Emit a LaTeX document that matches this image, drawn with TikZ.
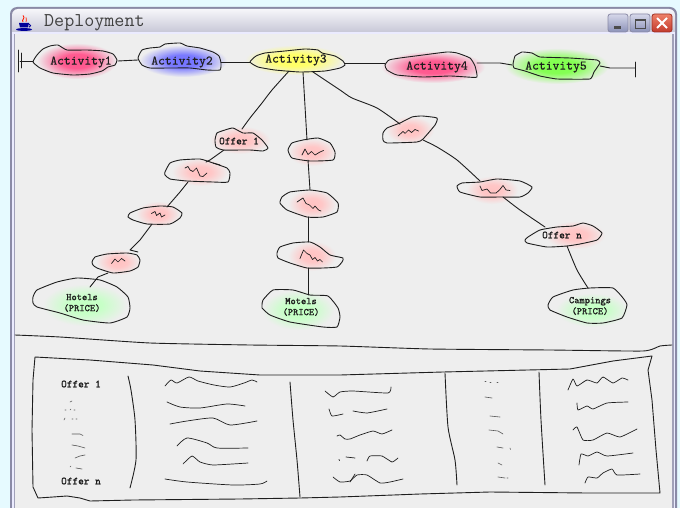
\documentclass[tikz,border=0pt]{standalone}
\usepackage{fontspec}
\newfontfamily\heavymono{lmmono10-regular.otf}[FakeBold=1.3]
\newfontfamily\midmono{lmmono10-regular.otf}[FakeBold=0.6]
\definecolor{outbg}{HTML}{E6FAFF}
\definecolor{canvas}{HTML}{EEEEEE}
\definecolor{ink}{HTML}{1E1E1E}
\definecolor{frameline}{HTML}{8A8AA6}
\definecolor{tbtop}{HTML}{F6F6FA}
\definecolor{tbbot}{HTML}{AEAEC4}
\definecolor{btntop}{HTML}{D6D8EA}
\definecolor{btnbot}{HTML}{8C92B8}
\definecolor{closetop}{HTML}{EE8068}
\definecolor{closebot}{HTML}{C23A2C}
% glows fading into the canvas grey
\pgfdeclareradialshading{glowred}{\pgfpoint{0bp}{0bp}}{rgb(0bp)=(1,0.33,0.55); rgb(10bp)=(1,0.36,0.57); rgb(25bp)=(0.933,0.933,0.933); rgb(50bp)=(0.933,0.933,0.933)}
\pgfdeclareradialshading{glowblue}{\pgfpoint{0bp}{0bp}}{rgb(0bp)=(0.45,0.45,1); rgb(10bp)=(0.48,0.48,1); rgb(25bp)=(0.933,0.933,0.933); rgb(50bp)=(0.933,0.933,0.933)}
\pgfdeclareradialshading{glowyellow}{\pgfpoint{0bp}{0bp}}{rgb(0bp)=(1,1,0.38); rgb(10bp)=(1,1,0.42); rgb(25bp)=(0.933,0.933,0.933); rgb(50bp)=(0.933,0.933,0.933)}
\pgfdeclareradialshading{glowgreen}{\pgfpoint{0bp}{0bp}}{rgb(0bp)=(0.5,1,0.3); rgb(10bp)=(0.52,1,0.33); rgb(25bp)=(0.933,0.933,0.933); rgb(50bp)=(0.933,0.933,0.933)}
\pgfdeclareradialshading{glowpink}{\pgfpoint{0bp}{0bp}}{rgb(0bp)=(1,0.76,0.76); rgb(10bp)=(1,0.78,0.78); rgb(25bp)=(0.933,0.933,0.933); rgb(50bp)=(0.933,0.933,0.933)}
\pgfdeclareradialshading{glowmint}{\pgfpoint{0bp}{0bp}}{rgb(0bp)=(0.76,1,0.76); rgb(10bp)=(0.78,1,0.78); rgb(25bp)=(0.933,0.933,0.933); rgb(50bp)=(0.933,0.933,0.933)}
\begin{document}
\begin{tikzpicture}[x=1pt,y=-1pt,
  blob/.style={draw=ink,line width=0.9pt,line join=round},
  sketch/.style={draw=ink,line width=0.9pt,line cap=round,line join=round},
  wiggle/.style={draw=ink,line width=0.7pt,line cap=round,line join=round},
  speck/.style={draw=ink!75,line width=0.6pt,line cap=round},
  actlabel/.style={font=\midmono\fontsize{13}{13}\selectfont,text=ink,inner sep=0pt},
  offerlabel/.style={font=\heavymono\fontsize{10.8}{11}\selectfont,text=ink,inner sep=0pt},
  pricelabel/.style={font=\heavymono\fontsize{10}{11}\selectfont,text=ink,inner sep=0pt,align=center},
  winbtn/.style={draw=frameline,line width=0.8pt,rounded corners=2.5pt,top color=btntop,bottom color=btnbot}]
\useasboundingbox (0,0) rectangle (680,508);
\clip (0,0) rectangle (680,508);

% window
\fill[outbg] (0,0) rectangle (680,508);
\fill[frameline,rounded corners=7pt] (10,7) rectangle (677,540);
\shade[top color=tbtop,bottom color=tbbot,rounded corners=6pt] (12,9) rectangle (675,45);
\fill[white!92!blue] (12,32) rectangle (675,540);
\fill[frameline!80] (13.5,34) rectangle (673.5,540);
\fill[canvas] (15,34) rectangle (672,540);
\node[font=\ttfamily\fontsize{19.5}{19.5}\selectfont,text=ink!85,anchor=base west,inner sep=0pt] (title) at (44,27) {Deployment};
% java cup
\fill[blue!60!black] (19,23) -- (29,23) -- (28,27.5) -- (20,27.5) -- cycle;
\draw[blue!60!black,line width=0.9pt] (29,24) arc[start angle=90,end angle=-90,radius=1.6pt];
\fill[blue!60!black] (24,29.5) ellipse[x radius=8pt,y radius=1.4pt];
\draw[red!80!orange,line width=0.9pt] (23,22) .. controls (21,19.5) and (26,18.5) .. (23,15.5);
\draw[red!80!orange,line width=0.7pt] (26,22) .. controls (25,20) and (28,19) .. (26,17.5);
% window buttons
\path[winbtn] (608,14) rectangle (628,32);
\fill[ink!80] (613.5,26.5) rectangle (620.5,29);
\path[winbtn] (630,14) rectangle (650,32);
\draw[ink!80,line width=0.9pt] (635,19.5) rectangle (645,28);
\fill[ink!80] (635,19) rectangle (645,20.8);
\path[draw=closebot!80!black,line width=0.8pt,rounded corners=2.5pt,top color=closetop,bottom color=closebot] (652,14) rectangle (672,32);
\draw[white,line width=1.8pt] (657,18) -- (667,28) (667,18) -- (657,28);

% glows
\shade[shading=glowred] (77,61) ellipse[x radius=40pt,y radius=18pt];
\shade[shading=glowblue] (183,61) ellipse[x radius=44pt,y radius=16pt];
\shade[shading=glowyellow] (295,60) ellipse[x radius=50pt,y radius=15pt];
\shade[shading=glowred] (433,67) ellipse[x radius=52pt,y radius=16pt];
\shade[shading=glowgreen] (557,66) ellipse[x radius=52pt,y radius=18pt];
\shade[shading=glowpink] (240,140) ellipse[x radius=30pt,y radius=14pt];
\shade[shading=glowpink] (200,172) ellipse[x radius=28pt,y radius=14pt];
\shade[shading=glowpink] (158,214) ellipse[x radius=22pt,y radius=13pt];
\shade[shading=glowpink] (118,262) ellipse[x radius=22pt,y radius=13pt];
\shade[shading=glowpink] (312,152) ellipse[x radius=24pt,y radius=14pt];
\shade[shading=glowpink] (312,204) ellipse[x radius=24pt,y radius=15pt];
\shade[shading=glowpink] (312,256) ellipse[x radius=24pt,y radius=15pt];
\shade[shading=glowpink] (410,130) ellipse[x radius=24pt,y radius=14pt];
\shade[shading=glowpink] (492,190) ellipse[x radius=26pt,y radius=14pt];
\shade[shading=glowpink] (575,235) ellipse[x radius=30pt,y radius=14pt];
\shade[shading=glowmint] (85,305) ellipse[x radius=42pt,y radius=21pt];
\shade[shading=glowmint] (298,310) ellipse[x radius=36pt,y radius=20pt];
\shade[shading=glowmint] (592,310) ellipse[x radius=36pt,y radius=17pt];

% activity row
\draw[blob] plot[smooth cycle,tension=0.3] coordinates {(33,62) (37,55) (43,49) (50,46) (58,45) (67,50) (87,50) (103,51) (113,54) (117,60) (115,65) (108,67) (102,71) (90,74) (73,75) (53,73) (40,68)};
\draw[blob] plot[smooth cycle,tension=0.3] coordinates {(138,58) (142,50) (150,48) (160,47) (165,44) (180,43) (187,46) (200,48) (213,52) (219,56) (221,63) (220,70) (207,70) (190,68) (170,68) (150,68) (142,65)};
\draw[blob] plot[smooth cycle,tension=0.3] coordinates {(250,62) (256,56) (265,53) (285,51) (305,49) (318,50) (322,53) (335,56) (343,61) (345,65) (340,68) (325,71) (300,72) (275,70) (258,67)};
\draw[blob] plot[smooth cycle,tension=0.3] coordinates {(385,65) (389,60) (400,58) (423,55) (447,52) (457,53) (470,58) (475,66) (477,77) (467,77) (450,76) (423,77) (397,75) (387,70)};
\draw[blob] plot[smooth cycle,tension=0.2] coordinates {(513,64) (515,56) (522,52) (532,53) (540,57) (570,58) (597,60) (600,63) (594,72) (590,79) (557,79) (540,76) (525,71) (514,68)};
\node[actlabel] (act1) at (81,62) {Activity1};
\node[actlabel] (act2) at (182,62) {Activity2};
\node[actlabel] (act3) at (296,60) {Activity3};
\node[actlabel] (act4) at (437,67) {Activity4};
\node[actlabel] (act5) at (556,67) {Activity5};
\coordinate (start) at (20,61);
\coordinate (a1w) at (33,61);
\coordinate (a1e) at (118,61);
\coordinate (a2w) at (138,60);
\coordinate (a2e) at (221,62);
\coordinate (a3w) at (250,62);
\coordinate (a3e) at (345,63);
\coordinate (a4w) at (385,63);
\coordinate (a4e) at (477,63);
\coordinate (a5w) at (512,65);
\coordinate (a5e) at (600,66);
\coordinate (stop) at (635,68);
\draw[sketch] (18.5,50) -- (18.5,72);
\draw[sketch] (21,53) -- (21,68);
\draw[sketch] (start) -- (a1w);
\draw[sketch] (a1e) -- (a2w);
\draw[sketch] (a2e) -- (a3w);
\draw[sketch] (a3e) -- (a4w);
\draw[sketch] (a4e) -- (500,63) -- (a5w);
\draw[sketch] (a5e) -- (610,68) -- (stop);
\draw[sketch] (635,62) -- (635,77);

% offers below Activity3
\coordinate (a3s1) at (289,71);
\coordinate (a3s2) at (303,72);
\coordinate (a3s3) at (313,72);
\draw[blob] plot[smooth cycle,tension=0.3] coordinates {(215,140) (217,133) (225,130) (233,128) (243,133) (253,133) (262,140) (268,148) (263,151) (250,150) (223,150) (216,147)};
\node[offerlabel] (off1) at (239,141) {Offer 1};
\draw[blob] plot[smooth cycle,tension=0.3] coordinates {(165,172) (170,163) (180,160) (200,159) (213,163) (227,168) (230,173) (228,182) (213,182) (187,181) (170,179) (165,175)};
\draw[blob] plot[smooth cycle,tension=0.3] coordinates {(128,217) (130,213) (143,208) (160,206) (173,207) (182,213) (180,218) (170,224) (147,224) (133,220)};
\draw[blob] plot[smooth cycle,tension=0.3] coordinates {(92,262) (95,257) (107,254) (127,253) (137,255) (140,260) (138,267) (130,271) (113,273) (97,268) (93,265)};
\draw[blob] plot[smooth cycle,tension=0.3] coordinates {(33,297) (37,290) (57,282) (77,278) (100,280) (117,287) (128,297) (130,308) (127,317) (110,323) (83,320) (60,313) (37,307) (33,303)};
\node[pricelabel] (hotels) at (82,303) {Hotels\\(PRICE)};
\draw[blob] plot[smooth cycle,tension=0.3] coordinates {(288,150) (292,143) (303,140) (318,138) (330,143) (335,152) (333,160) (310,161) (292,158)};
\draw[blob] plot[smooth cycle,tension=0.3] coordinates {(280,203) (282,197) (290,192) (310,190) (327,193) (338,203) (337,212) (323,217) (307,217) (287,210)};
\draw[blob] plot[smooth cycle,tension=0.3] coordinates {(277,253) (280,247) (293,243) (310,242) (320,247) (330,255) (343,258) (342,262) (337,267) (323,268) (307,268) (290,263) (278,258)};
\draw[blob] plot[smooth cycle,tension=0.3] coordinates {(262,305) (263,300) (273,290) (293,290) (310,295) (328,296) (338,308) (340,317) (337,327) (323,327) (290,322) (270,315) (262,308)};
\node[pricelabel] (motels) at (301,307) {Motels\\(PRICE)};
\draw[blob] plot[smooth cycle,tension=0.3] coordinates {(383,133) (387,128) (400,123) (412,117) (422,116) (437,118) (435,125) (423,139) (417,142) (387,143) (383,140)};
\draw[blob] plot[smooth cycle,tension=0.3] coordinates {(457,186) (462,183) (480,182) (497,179) (520,181) (532,187) (528,193) (520,197) (500,197) (480,197) (460,192)};
\draw[blob] plot[smooth cycle,tension=0.3] coordinates {(525,240) (528,237) (540,230) (557,227) (573,226) (583,223) (593,226) (602,233) (597,240) (580,244) (567,246) (547,247) (527,243)};
\node[offerlabel] (offn) at (562,235) {Offer n};
\draw[blob] plot[smooth cycle,tension=0.3] coordinates {(548,305) (553,297) (573,290) (590,288) (613,288) (623,298) (627,305) (622,318) (603,323) (587,323) (567,317) (550,310)};
\node[pricelabel] (camp) at (590,306) {Campings\\(PRICE)};

% scribbles standing in for offers
\draw[wiggle] plot coordinates {(185,168) (188,166.5) (190,170) (193,171.5) (196.5,168) (200,176) (203,176.5) (207,173)};
\draw[wiggle] plot coordinates {(151.5,213.5) (155,211.5) (156.5,215.5) (160,213) (161.5,217) (165,215)};
\draw[wiggle] plot coordinates {(111.5,263.5) (115,259) (118,262) (121.5,258.5) (125,261)};
\draw[wiggle] plot coordinates {(302,155) (305,149) (308,154.5) (311.5,151.5) (315,155) (320,152) (323.5,150.5)};
\draw[wiggle] plot coordinates {(297,202) (300,200) (303,198) (306,203.5) (309.5,205) (313,208.5) (315,206) (318.5,210) (321,211)};
\draw[wiggle] plot coordinates {(300,258.5) (303.5,250) (307,253.5) (310,255) (312.5,259.5) (315,257.5) (317.5,261) (320,259.5) (322.5,262)};
\draw[wiggle] plot coordinates {(398,136) (403,131.5) (405,133.5) (408.5,130) (411.5,132.5) (415,129.5) (418.5,131)};
\draw[wiggle] plot coordinates {(480,186) (482,190.5) (487,189) (490.5,193) (496,193) (499.5,190) (503,185.5) (506,190) (510,190.5)};

% connectors of the tree
\coordinate (o1n) at (242,129);
\coordinate (o1s) at (224,150);
\coordinate (n1n) at (206,162);
\coordinate (n1s) at (188,182);
\coordinate (n2n) at (167,207);
\coordinate (n2s) at (152,224);
\coordinate (n3n) at (130,250);
\coordinate (n3s) at (108,273);
\coordinate (hotn) at (90,287);
\coordinate (m1n) at (307,140);
\coordinate (m1s) at (308,160);
\coordinate (m2n) at (310,190);
\coordinate (m2s) at (308,217);
\coordinate (m3n) at (308,242);
\coordinate (m3s) at (308,268);
\coordinate (motn) at (308,295);
\coordinate (r1n) at (400,124);
\coordinate (r1s) at (423,140);
\coordinate (r2n) at (480,181);
\coordinate (r2s) at (503,197);
\coordinate (onn) at (545,227);
\coordinate (ons) at (567,246);
\coordinate (campn) at (588,288);
\draw[sketch] plot[smooth,tension=0.4] coordinates {(a3s1) (272,90) (262,103) (250,118) (o1n)};
\draw[sketch] (a3s2) -- (m1n);
\draw[sketch] plot[smooth,tension=0.4] coordinates {(a3s3) (340,90) (352,98) (377,108) (r1n)};
\draw[sketch] (o1s) -- (210,160) -- (n1n);
\draw[sketch] (213,163) -- (220,165);
\draw[sketch] (n1s) -- (180,192) -- (n2n);
\draw[sketch] (n2s) -- (140,240) -- (n3n) -- (138,252);
\draw[sketch] (n3s) -- (98,277) -- (hotn);
\draw[sketch] (m1s) -- (m2n);
\draw[sketch] (m2s) -- (m3n);
\draw[sketch] (m3s) -- (motn);
\draw[sketch] plot[smooth,tension=0.4] coordinates {(r1s) (437,147) (457,160) (r2n)};
\draw[sketch] plot[smooth,tension=0.4] coordinates {(r2s) (520,210) (onn)};
\draw[sketch] plot[smooth,tension=0.4] coordinates {(ons) (577,270) (campn)};

% divider and the table
\draw[sketch] plot[smooth,tension=0.3] coordinates {(15,335) (60,337) (150,343) (250,345) (340,346) (430,349) (550,350) (643,351) (660,346) (672,345)};
\draw[sketch] (35,357) -- (90,360) -- (153,365) -- (200,371) -- (260,375) -- (340,375) -- (443,372) -- (570,369) -- (613,361) -- (652,356) -- (648,370) -- (652,400) -- (656,450) -- (660,493) -- (587,493) -- (490,492) -- (420,494) -- (340,497) -- (300,498) -- (240,499) -- (133,500) -- (90,501) -- (80,498) -- (67,496) -- (53,497) -- (38,498) -- (33,487) -- (32,430) -- (33,380) -- cycle;
\draw[sketch] plot[smooth,tension=0.4] coordinates {(128,376) (131,390) (135,420) (136,460) (130,488)};
\draw[sketch] plot[smooth,tension=0.4] coordinates {(290,382) (293,420) (297,460) (300,497)};
\draw[sketch] plot[smooth,tension=0.4] coordinates {(445,373) (448,427) (455,460) (457,485)};
\draw[sketch] plot[smooth,tension=0.4] coordinates {(539,372) (541,420) (545,485)};
\node[offerlabel] (tab1) at (81,384) {Offer 1};
\node[offerlabel] (tabn) at (81,481) {Offer n};
% first column specks
\draw[speck] (70,402) -- (72,401);
\draw[speck] (65,410) -- (66,410) (70,410) -- (71,409) (74,410) -- (75,410);
\draw[speck] (64,420) -- (65,418) (72,419) -- (73,419) (76,419) -- (77,419);
\draw[speck] (72,434) -- (80,434) -- (83,435.5);
\draw[speck] (72,445) -- (78,446) -- (85,448);
\draw[speck] (75,458) -- (80,456) -- (85,455);
\draw[speck] (70,467) -- (71,466) (76,468) -- (82,469);
% second column
\draw[wiggle] plot[smooth,tension=0.4] coordinates {(165,386) (171,380) (177,383) (189,377) (198,381) (214,385) (230,387) (244,383) (252,380) (257,382)};
\draw[wiggle] plot[smooth,tension=0.4] coordinates {(167,402) (180,407) (200,408) (227,404) (245,406)};
\draw[wiggle] plot[smooth,tension=0.4] coordinates {(170,424) (187,421) (213,418) (230,425) (257,421)};
\draw[wiggle] plot[smooth,tension=0.4] coordinates {(177,446) (187,438) (207,443) (217,448) (248,448)};
\draw[wiggle] plot[smooth,tension=0.3] coordinates {(183,464) (192,456) (200,462) (213,465) (248,463)};
\draw[wiggle] plot[smooth,tension=0.4] coordinates {(165,479) (187,482) (233,485) (260,484) (267,481)};
% third column
\draw[wiggle] plot[smooth,tension=0.3] coordinates {(325,391) (333,397) (340,392) (353,391) (388,393) (391,387)};
\draw[wiggle] plot[smooth,tension=0.3] coordinates {(329,409) (332,416) (343,414)};
\draw[wiggle] plot[smooth,tension=0.3] coordinates {(353,411) (367,413) (387,409)};
\draw[wiggle] plot[smooth,tension=0.3] coordinates {(337,436) (340,435) (345,439) (350,439) (360,435) (373,431) (382,434) (392,430)};
\draw[wiggle] (339,459.5) -- (339.5,460.5);
\draw[wiggle] (346,457) -- (355,458);
\draw[wiggle] plot[smooth,tension=0.3] coordinates {(367,461) (370,456) (382,456) (392,462) (398,458)};
\draw[wiggle] plot[smooth,tension=0.3] coordinates {(333,477) (340,482) (350,481) (357,475) (367,475) (380,483) (390,482) (403,479)};
\draw[wiggle] (350,482) -- (355,474);
% fourth column specks
\draw[speck] (485,381) -- (486,381) (490,382) -- (491,382) (497,382) -- (498,382);
\draw[speck] (485,397) -- (492,398);
\draw[speck] (490,416) -- (500,417);
\draw[speck] (489,430) -- (498,431) -- (503,434);
\draw[speck] (497,447) -- (503,448) (510,448) -- (510.5,449.5);
\draw[speck] (498,463) -- (502,465);
\draw[speck] (498,477) -- (505,478) (507,478) -- (508,478);
% fifth column
\draw[wiggle] plot[smooth,tension=0.3] coordinates {(568,390) (573,379) (577,386) (587,380) (597,383) (603,377) (613,383) (622,378) (628,380)};
\draw[wiggle] plot[smooth,tension=0.3] coordinates {(577,403) (578,410) (587,406) (593,409) (607,403) (628,402)};
\draw[wiggle] plot[smooth,tension=0.3] coordinates {(573,430) (577,427) (583,440) (593,440) (607,433) (620,437) (637,429)};
\draw[wiggle] plot[smooth,tension=0.3] coordinates {(579,465) (581,454) (588,456) (597,452) (607,456) (633,453)};
\draw[wiggle] plot[smooth,tension=0.3] coordinates {(585,483) (588,477) (597,478) (603,473) (612,469) (617,475) (640,474)};
\end{tikzpicture}
\end{document}
